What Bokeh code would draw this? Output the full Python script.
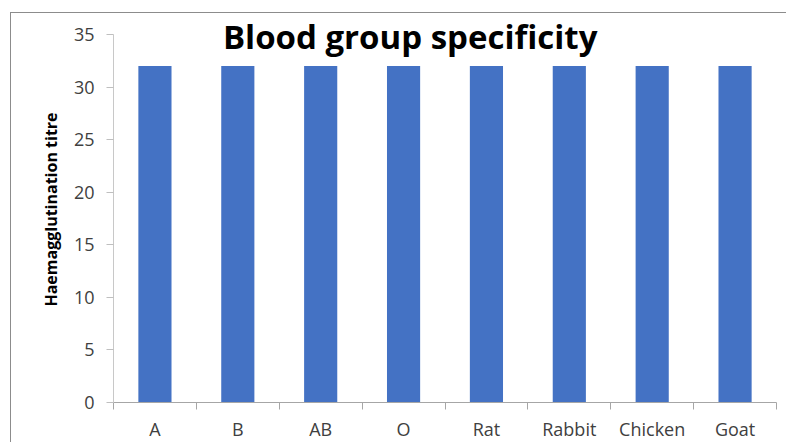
from bokeh.plotting import figure
from bokeh.models import Range1d, FixedTicker, Label, ColumnDataSource
from bokeh.embed import file_html
from bokeh.resources import INLINE

categories = ["A", "B", "AB", "O", "Rat", "Rabbit", "Chicken", "Goat"]
titre = [32, 32, 32, 32, 32, 32, 32, 32]
y_ticks = [0, 5, 10, 15, 20, 25, 30, 35]
title_text = "Blood group specificity"
y_label = "Haemagglutination titre"

FONT = "Open Sans"
n = len(categories)
centers = [i + 0.5 for i in range(n)]
bounds = list(range(n + 1))

src = ColumnDataSource(dict(x=centers, top=titre, cat=categories))

p = figure(width=776, height=430, output_backend="svg", toolbar_location=None,
           x_range=Range1d(0, n), y_range=Range1d(0, 36.71),
           min_border_left=102, min_border_top=3, min_border_right=11,
           min_border_bottom=40)
p.styles = {"border-top": "1px solid #8c8c8c", "border-left": "1px solid #8c8c8c",
            "margin-top": "12px", "margin-left": "10px"}
p.outline_line_color = None
p.grid.visible = False
p.background_fill_color = "white"
p.border_fill_color = "white"

p.vbar(x="x", top="top", width=0.4, bottom=0, source=src,
       fill_color="#4472C4", line_color=None)

xa = p.xaxis[0]
xa.ticker = FixedTicker(ticks=centers, minor_ticks=bounds)
xa.major_label_overrides = {c: lab for c, lab in zip(centers, categories)}
xa.major_tick_line_color = None
xa.major_tick_out = 0
xa.major_tick_in = 0
xa.minor_tick_line_color = "#A6A6A6"
xa.minor_tick_out = 7
xa.minor_tick_in = 0
xa.axis_line_color = "#A6A6A6"
xa.major_label_text_font = FONT
xa.major_label_text_font_size = "18px"
xa.major_label_text_color = "#404040"
xa.major_label_standoff = 7

ya = p.yaxis[0]
ya.ticker = FixedTicker(ticks=y_ticks)
ya.bounds = (0, 35)
ya.minor_tick_line_color = None
ya.major_tick_out = 7
ya.major_tick_in = 0
ya.major_tick_line_color = "#BFBFBF"
ya.axis_line_color = "#C8C8C8"
ya.major_label_text_font = FONT
ya.major_label_text_font_size = "18px"
ya.major_label_text_color = "#404040"
ya.major_label_standoff = 12
ya.axis_label = y_label
ya.axis_label_text_font = FONT
ya.axis_label_text_font_size = "16px"
ya.axis_label_text_font_style = "bold"
ya.axis_label_text_color = "black"
ya.axis_label_standoff = 9

p.add_layout(Label(x=3.58, y=34.8, text=title_text, text_align="center",
                   text_baseline="middle", text_font=FONT, text_font_size="33px",
                   text_font_style="bold", text_color="black"))

open("out.html", "w").write(file_html(p, INLINE))
